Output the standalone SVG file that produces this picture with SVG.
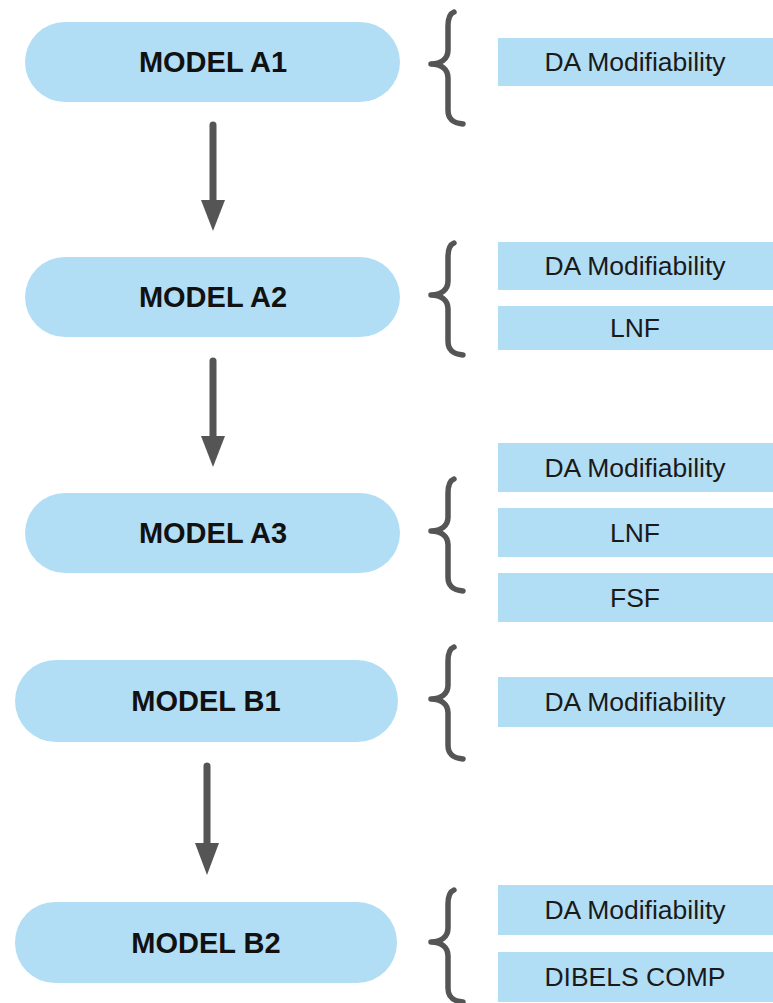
<svg xmlns="http://www.w3.org/2000/svg" width="773" height="1003" viewBox="0 0 773 1003">
<defs>
<style>
.node{fill:#b2def5}
.box{fill:#b2def5}
.mt{font-family:"Liberation Sans",Arial,sans-serif;font-weight:bold;font-size:29px;fill:#111;text-anchor:middle}
.bt{font-family:"Liberation Sans",Arial,sans-serif;font-size:26.5px;fill:#1a1a1a;text-anchor:middle}
.brace{fill:none;stroke:#555;stroke-width:5.5;stroke-linecap:round;stroke-linejoin:round}
.conn{stroke:#555;stroke-width:7;stroke-linecap:round}
.head{fill:#555}
</style>
<path id="br" d="M23,-52 C18,-50 17,-45 17,-38 L17,-14 C17,-5 10,0 0,0 C10,0 17,5 17,14 L17,46 C17,55 22,59 32,60"/>
</defs>
<rect width="773" height="1003" fill="#fff"/>
<g id="connectors">
<line class="conn" x1="213" y1="125" x2="213" y2="204"/>
<polygon class="head" points="201,200 225,200 213,231"/>
<line class="conn" x1="213" y1="361" x2="213" y2="440"/>
<polygon class="head" points="201,436 225,436 213,467"/>
<line class="conn" x1="207" y1="766" x2="207" y2="847"/>
<polygon class="head" points="195,843 219,843 207,875"/>
</g>
<g id="modelA1">
<rect class="node" x="25" y="22" width="375" height="80" rx="40"/>
<text class="mt" x="213" y="72">MODEL A1</text>
<use href="#br" class="brace" transform="translate(431,64)"/>
<rect class="box" x="498" y="38" width="275" height="48"/>
<text class="bt" x="635" y="71">DA Modifiability</text>
</g>
<g id="modelA2">
<rect class="node" x="25" y="257" width="375" height="80" rx="40"/>
<text class="mt" x="213" y="307">MODEL A2</text>
<use href="#br" class="brace" transform="translate(431,295)"/>
<rect class="box" x="498" y="242" width="275" height="48"/>
<text class="bt" x="635" y="275">DA Modifiability</text>
<rect class="box" x="498" y="306" width="275" height="44"/>
<text class="bt" x="635" y="337">LNF</text>
</g>
<g id="modelA3">
<rect class="node" x="25" y="493" width="375" height="80" rx="40"/>
<text class="mt" x="213" y="543">MODEL A3</text>
<use href="#br" class="brace" transform="translate(431,531)"/>
<rect class="box" x="498" y="443" width="275" height="49"/>
<text class="bt" x="635" y="477">DA Modifiability</text>
<rect class="box" x="498" y="508" width="275" height="49"/>
<text class="bt" x="635" y="542">LNF</text>
<rect class="box" x="498" y="573" width="275" height="49"/>
<text class="bt" x="635" y="607">FSF</text>
</g>
<g id="modelB1">
<rect class="node" x="15" y="660" width="383" height="82" rx="41"/>
<text class="mt" x="206" y="711">MODEL B1</text>
<use href="#br" class="brace" transform="translate(431,699)"/>
<rect class="box" x="498" y="677" width="275" height="50"/>
<text class="bt" x="635" y="711">DA Modifiability</text>
</g>
<g id="modelB2">
<rect class="node" x="15" y="902" width="382" height="81" rx="40"/>
<text class="mt" x="206" y="953">MODEL B2</text>
<use href="#br" class="brace" transform="translate(431,942)"/>
<rect class="box" x="498" y="885" width="275" height="50"/>
<text class="bt" x="635" y="919">DA Modifiability</text>
<rect class="box" x="498" y="952" width="275" height="50"/>
<text class="bt" x="635" y="986">DIBELS COMP</text>
</g>
</svg>
